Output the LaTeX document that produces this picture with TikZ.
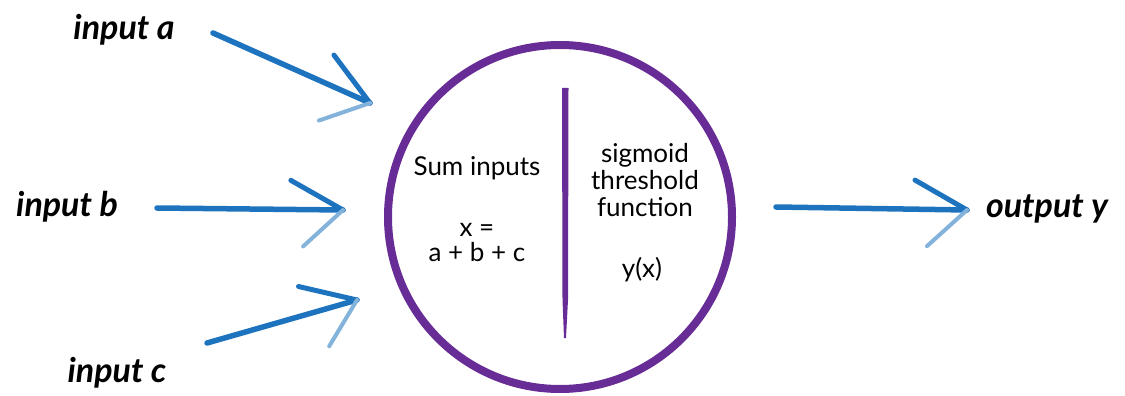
\documentclass[tikz,border=0pt]{standalone}
\usepackage{fontspec}
\setmainfont{Lato}
\usetikzlibrary{calc}
\definecolor{arrblue}{RGB}{30,115,190}
\definecolor{ringpurple}{RGB}{104,44,150}
\tikzset{
  lbl/.style={font=\fontsize{34}{38}\selectfont\bfseries\itshape, text=black, inner sep=0pt},
  intext/.style={font=\fontsize{26}{28}\selectfont, text=black, inner sep=0pt, align=center},
  shaft/.style={draw=arrblue, line width=5.5pt, line cap=round},
  barbup/.style={draw=arrblue, line width=5pt, line cap=round},
  barblo/.style={draw=arrblue!55, line width=4pt, line cap=round},
}
\begin{document}
\begin{tikzpicture}[x=1pt,y=-1pt]
\useasboundingbox (0,0) rectangle (1125,396);
% labels
\node[lbl] (ina) at (124,30) {input a};
\node[lbl] (inb) at (67,207) {input b};
\node[lbl] (inc) at (117,373) {input c};
\node[lbl] (outy) at (1047,209) {output y};
% neuron
\node[circle, draw=ringpurple, line width=8pt, minimum size=344pt, inner sep=0pt] (neuron) at (560,217) {};
\fill[ringpurple] (562,88) -- (568.5,88) -- (568,300) -- (566,338) -- (564,338) -- (562.5,300) -- cycle;
\node[intext] (sum) at (477,168) {Sum inputs};
\node[intext] (xeq) at (477,243) {x =\\[-3pt] a + b + c};
\node[intext] (sig) at (645,180) {sigmoid\\[-1pt] threshold\\[-1pt] function};
\node[intext] (yx) at (642,270) {y(x)};
% arrow coordinates
\coordinate (sa) at (213,33);  \coordinate (ea) at (370,103);
\coordinate (sb) at (157,208); \coordinate (eb) at (343,210);
\coordinate (sc) at (207,343); \coordinate (ec) at (357,300);
\coordinate (so) at (776,207); \coordinate (eo) at (967,210);
% arrows
\foreach \s/\e in {sa/ea, sb/eb, sc/ec, so/eo}{
  \draw[shaft] (\s) -- (\e);
  \draw[barbup] ($(\e)!60pt!-29:(\s)$) -- (\e);
  \draw[barblo] ($(\e)!54pt!43:(\s)$) -- (\e);
}
\end{tikzpicture}
\end{document}
